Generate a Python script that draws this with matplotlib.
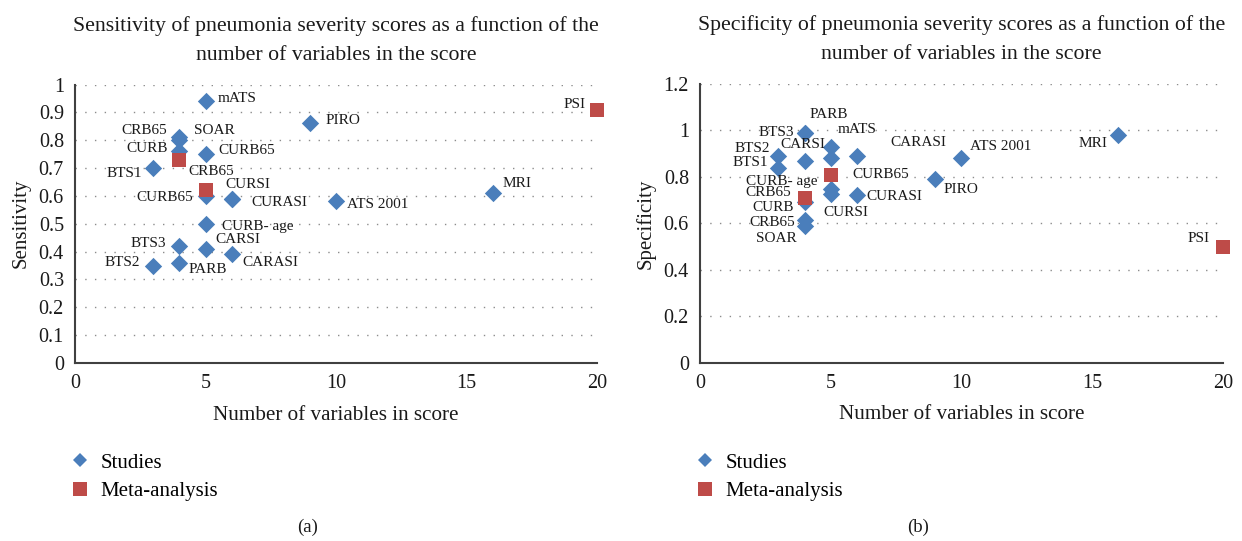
import matplotlib
matplotlib.use("Agg")
import matplotlib.pyplot as plt
from matplotlib.lines import Line2D

plt.rcParams['font.family'] = ['Liberation Serif', 'DejaVu Serif']

# ---------------- data: panel (a) sensitivity ----------------
names_a = ["mATS", "PIRO", "CRB65", "SOAR", "CURB", "CURB65", "BTS1", "CURSI", "CURASI",
           "ATS 2001", "MRI", "CURB- age", "BTS3", "CARSI", "CARASI", "BTS2", "PARB", "CURB65"]
vars_a = [5, 9, 4, 4, 4, 5, 3, 6, 6, 10, 16, 5, 4, 5, 6, 3, 4, 5]
sens_a = [0.94, 0.86, 0.81, 0.80, 0.76, 0.75, 0.70, 0.59, 0.59,
          0.58, 0.61, 0.50, 0.42, 0.41, 0.39, 0.35, 0.36, 0.60]
meta_names_a = ["CRB65", "", "PSI"]
meta_vars_a = [4, 5, 20]
meta_sens_a = [0.73, 0.62, 0.91]

# ---------------- data: panel (b) specificity ----------------
names_b = ["BTS3", "PARB", "mATS", "BTS2", "BTS1", "CARSI", "", "CARASI", "ATS 2001", "MRI",
           "PIRO", "CURB- age", "CURSI", "CURASI", "CURB", "CRB65", "SOAR"]
vars_b = [4, 4, 5, 3, 3, 4, 5, 6, 10, 16, 9, 5, 5, 6, 4, 4, 4]
spec_b = [0.99, 0.99, 0.93, 0.89, 0.84, 0.87, 0.88, 0.89, 0.88, 0.98,
          0.79, 0.75, 0.725, 0.72, 0.69, 0.615, 0.59]
meta_names_b = ["CRB65", "CURB65", "PSI"]
meta_vars_b = [4, 5, 20]
meta_spec_b = [0.71, 0.81, 0.50]

# label placement (pixel offsets from the point, up positive) -- layout only
lab_a = [(12, 3, 'left'), (16, 3, 'left'), (-12, 7, 'right'), (15, 10, 'left'),
         (-12, 3, 'right'), (13, 4, 'left'), (-11, -5, 'right'), (-6, 14, 'left'),
         (20, -4, 'left'), (11, -3, 'left'), (10, 10, 'left'), (17, -3, 'left'),
         (-13, 3, 'right'), (10, 9, 'left'), (11, -8, 'left'), (-13, 3, 'right'),
         (9, -7, 'left'), (-12, -2, 'right')]
meta_lab_a = [(9, -12, 'left'), (0, 0, 'left'), (-11, 5, 'right')]
lab_b = [(-11, 0, 'right'), (5, 18, 'left'), (7, 17, 'left'), (-8, 7, 'right'),
         (-10, 5, 'right'), (-2, 16, 'center'), (0, 0, 'left'), (34, 13, 'left'),
         (9, 12, 'left'), (-11, -8, 'right'), (8, -10, 'left'), (-13, 7, 'right'),
         (-7, -18, 'left'), (10, -1, 'left'), (-11, -5, 'right'), (-9, -3, 'right'),
         (-8, -13, 'right')]
meta_lab_b = [(-13, 5, 'right'), (22, 0, 'left'), (-13, 8, 'right')]

BLUE = '#4a7ebb'
RED = '#be4b48'
TXT = '#1a1a1a'

W, H = 1242, 541
fig = plt.figure(figsize=(W / 100, H / 100), dpi=100)


def fx(px):
    return px / W


def fy(py):
    return 1 - py / H


def panel(rect, xs, ys, names, labs, mx, my, mnames, mlabs, ymax, ystep, title, ylabel):
    ax = fig.add_axes(rect)
    ax.scatter(xs, ys, marker='D', s=78, color=BLUE, zorder=3, linewidths=0, clip_on=False)
    ax.scatter(mx, my, marker='s', s=100, color=RED, zorder=4, linewidths=0, clip_on=False)
    for x, y, n, (dx, dy, ha) in list(zip(xs, ys, names, labs)) + list(zip(mx, my, mnames, mlabs)):
        if n:
            ax.annotate(n, (x, y), xytext=(dx, dy), textcoords='offset pixels',
                        ha=ha, va='center', fontsize=11, color=TXT, zorder=5,
                        annotation_clip=False)
    ax.set_xlim(0, 20)
    ax.set_ylim(0, ymax)
    ax.set_xticks([0, 5, 10, 15, 20])
    nt = int(round(ymax / ystep))
    yt = [round(i * ystep, 1) for i in range(nt + 1)]
    ax.set_yticks(yt)
    ax.set_yticklabels(["0" if v == 0 else ("1" if v == 1 else f"{v:.1f}") for v in yt])
    for v in yt[1:]:
        ax.axhline(v, color='#8c8c8c', lw=1.0, ls=(0, (1, 6)), zorder=1)
    for s in ['top', 'right']:
        ax.spines[s].set_visible(False)
    for s in ['left', 'bottom']:
        ax.spines[s].set_color('#404040')
        ax.spines[s].set_linewidth(1.5)
    ax.tick_params(length=0, labelsize=14.5, pad=8, colors=TXT)
    ax.set_xlabel('Number of variables in score', fontsize=15.2, labelpad=9, color=TXT)
    ax.set_ylabel(ylabel, fontsize=15, labelpad=6, color=TXT)
    ax.set_title(title, fontsize=15.7, linespacing=1.7, pad=18, color=TXT)
    ax.set_facecolor('none')
    h1 = Line2D([], [], marker='D', color=BLUE, ls='none', markersize=7, markeredgewidth=0)
    h2 = Line2D([], [], marker='s', color=RED, ls='none', markersize=10, markeredgewidth=0)
    ax.legend([h1, h2], ['Studies', 'Meta-analysis'], loc='upper left',
              bbox_to_anchor=(rect[0] - fx(5), fy(453)), bbox_transform=fig.transFigure,
              frameon=False, fontsize=15, handlelength=1.0, handletextpad=0.45,
              labelspacing=0.44, borderpad=0, borderaxespad=0)
    return ax


panel([fx(75), fy(363), fx(597 - 75), (363 - 84.5) / H], vars_a, sens_a, names_a, lab_a,
      meta_vars_a, meta_sens_a, meta_names_a, meta_lab_a, 1.0, 0.1,
      'Sensitivity of pneumonia severity scores as a function of the\nnumber of variables in the score',
      'Sensitivity')
panel([fx(700), fy(362.7), fx(1222.7 - 700), (362.7 - 84) / H], vars_b, spec_b, names_b, lab_b,
      meta_vars_b, meta_spec_b, meta_names_b, meta_lab_b, 1.2, 0.2,
      'Specificity of pneumonia severity scores as a function of the\nnumber of variables in the score',
      'Specificity')

fig.text(fx(308), fy(527), '(a)', ha='center', va='center', fontsize=13.5, color=TXT)
fig.text(fx(918), fy(527), '(b)', ha='center', va='center', fontsize=13.5, color=TXT)

fig.savefig('out.png', dpi=100, facecolor='white')
